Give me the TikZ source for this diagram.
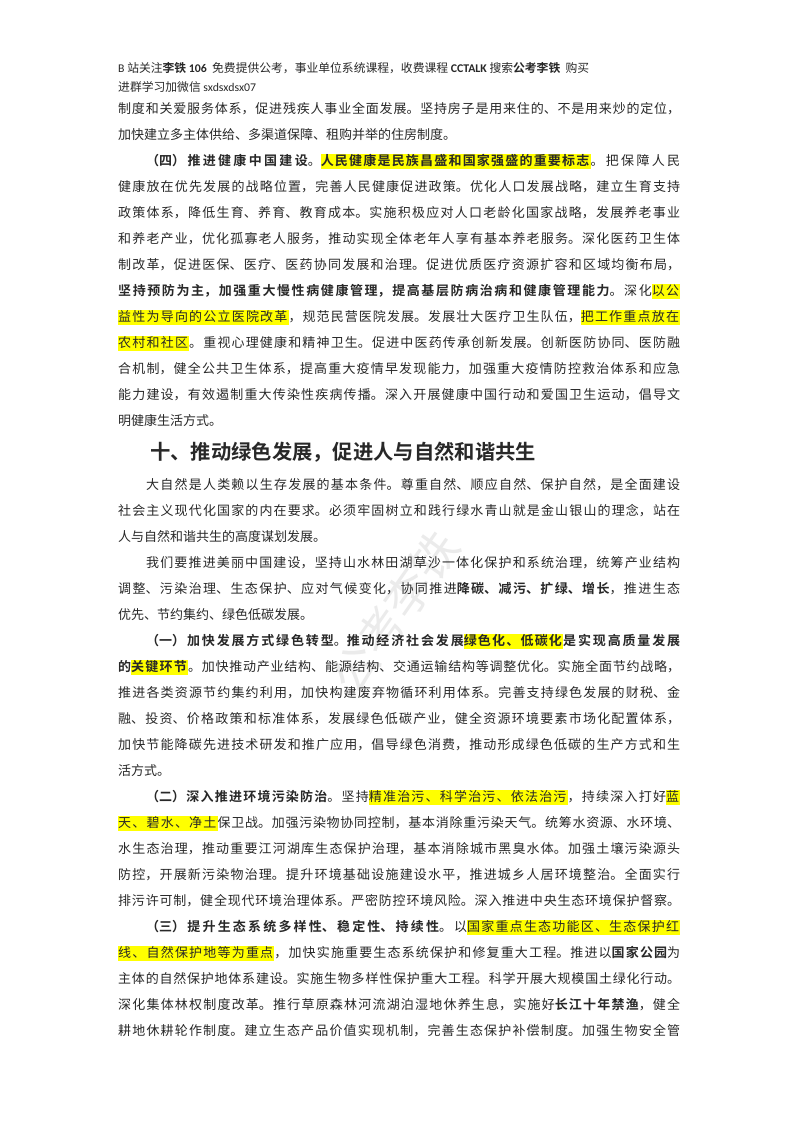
\documentclass[tikz,border=0pt]{standalone}
\usepackage{fontspec}
\setmainfont{Noto Sans CJK SC}[BoldFont={Noto Sans CJK SC Bold}]
\newfontfamily\carl{Carlito}
\XeTeXlinebreaklocale "zh"
\XeTeXlinebreakskip=1.2pt plus 1pt minus 0.8pt
\definecolor{hly}{RGB}{255,255,0}
\definecolor{txt}{RGB}{40,40,40}
\def\hlt#1{\hltloop#1\relax}
\def\hltloop#1{\ifx#1\relax\else{\setlength{\fboxsep}{0pt}\colorbox{hly}{\rule[-3.5pt]{0pt}{15pt}#1\hspace{1.2pt}}}\expandafter\hltloop\fi}
\tikzset{
  full/.style={anchor=base west, text width=562pt, align=justify, inner sep=0pt,
     font=\fontsize{13}{15}\selectfont, text=txt, execute at begin node={\tolerance=10000\parfillskip=0pt}},
  last/.style={anchor=base west, inner sep=0pt, font=\fontsize{13}{15}\selectfont, text=txt},
  hdr/.style={anchor=base west, inner sep=0pt, font=\fontsize{11.8}{13}\selectfont, text=txt}
}
\newcommand{\ind}{\hspace*{28pt}}
\begin{document}
\begin{tikzpicture}[x=1pt,y=-1pt]
\useasboundingbox (0,0) rectangle (800,1132);
\fill[white] (0,0) rectangle (800,1132);
\node[rotate=55, text=black!8, font=\fontsize{46}{50}\selectfont] (wm) at (395,612) {公考李铁};
\node[hdr] (h1) at (118,73) {{\carl B} 站关注\textbf{李铁 {\carl 106}}\ \ 免费提供公考，事业单位系统课程，收费课程 {\carl\bfseries CCTALK} 搜索\textbf{公考李铁}\ \ 购买};
\node[hdr] (h2) at (118,91) {进群学习加微信 {\carl sxdsxdsx07}};
\node[full] (l1) at (118,113) {制度和关爱服务体系，促进残疾人事业全面发展。坚持房子是用来住的、不是用来炒的定位，};
\node[last] (l2) at (118,139) {加快建立多主体供给、多渠道保障、租购并举的住房制度。};
\node[full] (l3) at (118,165) {\ind\textbf{（四）推进健康中国建设}。\textbf{\hlt{人民健康是民族昌盛和国家强盛的重要标志}}。把保障人民};
\node[full] (l4) at (118,191) {健康放在优先发展的战略位置，完善人民健康促进政策。优化人口发展战略，建立生育支持};
\node[full] (l5) at (118,217) {政策体系，降低生育、养育、教育成本。实施积极应对人口老龄化国家战略，发展养老事业};
\node[full] (l6) at (118,243) {和养老产业，优化孤寡老人服务，推动实现全体老年人享有基本养老服务。深化医药卫生体};
\node[full] (l7) at (118,269) {制改革，促进医保、医疗、医药协同发展和治理。促进优质医疗资源扩容和区域均衡布局，};
\node[full] (l8) at (118,295) {\textbf{坚持预防为主，加强重大慢性病健康管理，提高基层防病治病和健康管理能力}。深化\hlt{以公}};
\node[full] (l9) at (118,321) {\hlt{益性为导向的公立医院改革}，规范民营医院发展。发展壮大医疗卫生队伍，\hlt{把工作重点放在}};
\node[full] (l10) at (118,347) {\hlt{农村和社区}。重视心理健康和精神卫生。促进中医药传承创新发展。创新医防协同、医防融};
\node[full] (l11) at (118,373) {合机制，健全公共卫生体系，提高重大疫情早发现能力，加强重大疫情防控救治体系和应急};
\node[full] (l12) at (118,399) {能力建设，有效遏制重大传染性疾病传播。深入开展健康中国行动和爱国卫生运动，倡导文};
\node[last] (l13) at (118,425) {明健康生活方式。};
\node[anchor=base west, inner sep=0pt, font=\fontsize{20.3}{24}\bfseries, text=txt] (head) at (150,459) {十、推动绿色发展，促进人与自然和谐共生};
\node[full] (m1) at (118,489) {\ind 大自然是人类赖以生存发展的基本条件。尊重自然、顺应自然、保护自然，是全面建设};
\node[full] (m2) at (118,515) {社会主义现代化国家的内在要求。必须牢固树立和践行绿水青山就是金山银山的理念，站在};
\node[last] (m3) at (118,541) {人与自然和谐共生的高度谋划发展。};
\node[full] (m4) at (118,567) {\ind 我们要推进美丽中国建设，坚持山水林田湖草沙一体化保护和系统治理，统筹产业结构};
\node[full] (m5) at (118,593) {调整、污染治理、生态保护、应对气候变化，协同推进\textbf{降碳、减污、扩绿、增长}，推进生态};
\node[last] (m6) at (118,619) {优先、节约集约、绿色低碳发展。};
\node[full] (m7) at (118,645) {\ind\textbf{（一）加快发展方式绿色转型}。\textbf{推动经济社会发展\hlt{绿色化、低碳化}是实现高质量发展}};
\node[full] (m8) at (118,671) {\textbf{的\hlt{关键环节}}。加快推动产业结构、能源结构、交通运输结构等调整优化。实施全面节约战略，};
\node[full] (m9) at (118,697) {推进各类资源节约集约利用，加快构建废弃物循环利用体系。完善支持绿色发展的财税、金};
\node[full] (m10) at (118,723) {融、投资、价格政策和标准体系，发展绿色低碳产业，健全资源环境要素市场化配置体系，};
\node[full] (m11) at (118,749) {加快节能降碳先进技术研发和推广应用，倡导绿色消费，推动形成绿色低碳的生产方式和生};
\node[last] (m12) at (118,775) {活方式。};
\node[full] (m13) at (118,801) {\ind\textbf{（二）深入推进环境污染防治}。坚持\hlt{精准治污、科学治污、依法治污}，持续深入打好\hlt{蓝}};
\node[full] (m14) at (118,827) {\hlt{天、碧水、净土}保卫战。加强污染物协同控制，基本消除重污染天气。统筹水资源、水环境、};
\node[full] (m15) at (118,853) {水生态治理，推动重要江河湖库生态保护治理，基本消除城市黑臭水体。加强土壤污染源头};
\node[full] (m16) at (118,879) {防控，开展新污染物治理。提升环境基础设施建设水平，推进城乡人居环境整治。全面实行};
\node[full] (m17) at (118,905) {排污许可制，健全现代环境治理体系。严密防控环境风险。深入推进中央生态环境保护督察。};
\node[full] (m18) at (118,931) {\ind\textbf{（三）提升生态系统多样性、稳定性、持续性}。以\hlt{国家重点生态功能区、生态保护红}};
\node[full] (m19) at (118,957) {\hlt{线、自然保护地等为重点}，加快实施重要生态系统保护和修复重大工程。推进以\textbf{国家公园}为};
\node[full] (m20) at (118,983) {主体的自然保护地体系建设。实施生物多样性保护重大工程。科学开展大规模国土绿化行动。};
\node[full] (m21) at (118,1009) {深化集体林权制度改革。推行草原森林河流湖泊湿地休养生息，实施好\textbf{长江十年禁渔}，健全};
\node[full] (m22) at (118,1035) {耕地休耕轮作制度。建立生态产品价值实现机制，完善生态保护补偿制度。加强生物安全管};
\end{tikzpicture}
\end{document}
